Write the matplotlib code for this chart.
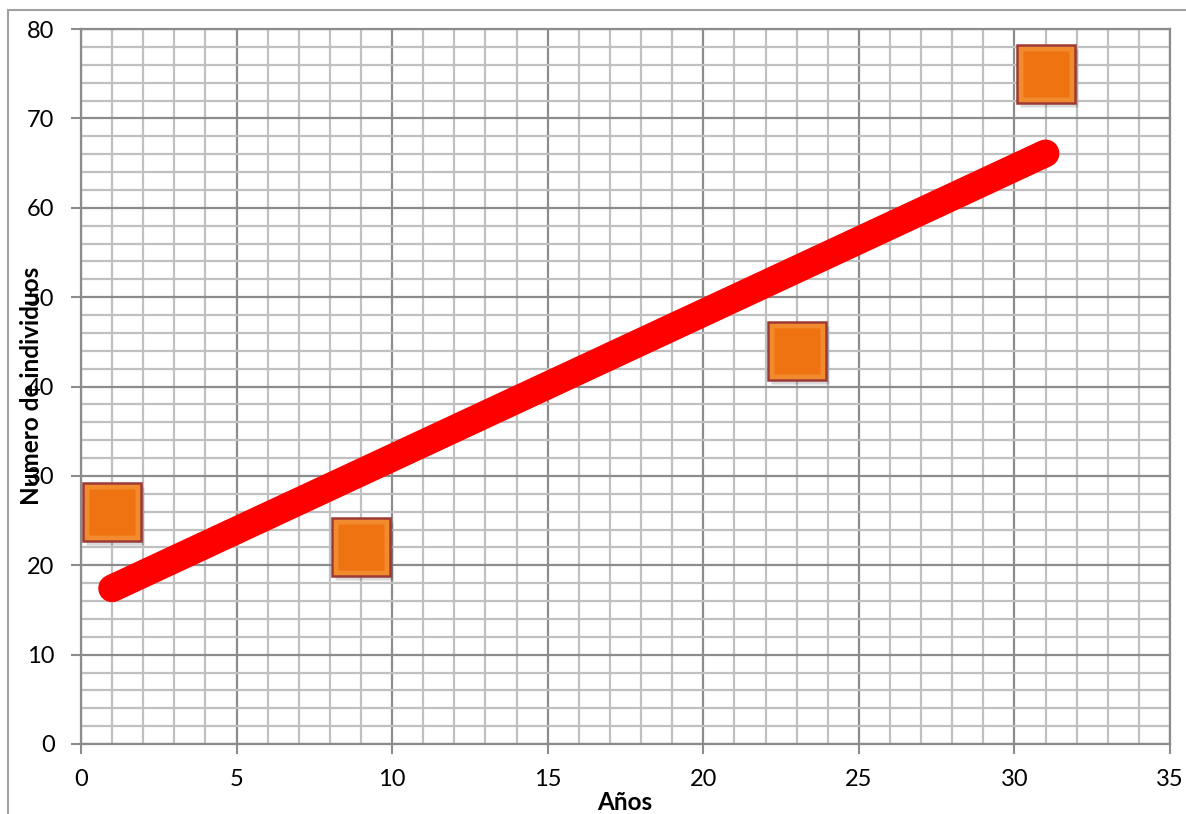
import numpy as np
import matplotlib
matplotlib.use("Agg")
import matplotlib.pyplot as plt
import matplotlib.transforms as mtransforms
from matplotlib.patches import Rectangle

# Data
years = [1, 9, 23, 31]
individuals = [26, 22, 44, 75]
x_ticks = [0, 5, 10, 15, 20, 25, 30, 35]
y_ticks = [0, 10, 20, 30, 40, 50, 60, 70, 80]
x_label = "Años"
y_label = "Numero de individuos"

plt.rcParams['font.family'] = ['Lato', 'DejaVu Sans']

fig = plt.figure(figsize=(11.86, 8.14), dpi=100)
ax = fig.add_axes([81/1186, 1 - 744/814, (1170-81)/1186, (744-29)/814])

ax.set_xlim(0, 35)
ax.set_ylim(0, 80)
ax.set_xticks(x_ticks)
ax.set_yticks(y_ticks)
ax.set_xticks(np.arange(0, 36, 1), minor=True)
ax.set_yticks(np.arange(0, 81, 2), minor=True)
ax.grid(which='minor', color='#c0c0c0', linewidth=1.6, zorder=0)
ax.grid(which='major', color='#8c8c8c', linewidth=1.6, zorder=0)
ax.set_axisbelow(True)
ax.tick_params(which='major', direction='out', length=7, width=1.5, color='#8c8c8c',
               labelsize=17, labelcolor='black')
ax.tick_params(axis='y', which='major', pad=12)
ax.tick_params(axis='x', which='major', pad=11)
ax.tick_params(which='minor', length=0)
for s in ax.spines.values():
    s.set_color('#8c8c8c')
    s.set_linewidth(1.6)

# Trend line (linear least squares fit)
coef = np.polyfit(years, individuals, 1)
xt = np.array([min(years), max(years)])
ax.plot(xt, np.polyval(coef, xt), color='#ff0000', linewidth=20,
        solid_capstyle='round', zorder=3)

# Marker shadow
shadow = mtransforms.offset_copy(ax.transData, fig=fig, x=3, y=-4, units='dots')
ax.plot(years, individuals, linestyle='none', marker='s', markersize=42,
        markerfacecolor='#000000', markeredgecolor='none', alpha=0.15,
        transform=shadow, zorder=4)
# Markers
ax.plot(years, individuals, linestyle='none', marker='s', markersize=42,
        markerfacecolor='#f28a2e', markeredgecolor='#9c3b36', markeredgewidth=1.8,
        zorder=5)
# Inner face (bevel effect)
ax.plot(years, individuals, linestyle='none', marker='s', markersize=33,
        markerfacecolor='#ef7411', markeredgecolor='none',
        zorder=6)

fig.text(625/1186, 1 - 803/814, x_label, fontsize=17.5, fontweight='bold',
         ha='center', va='center')
fig.text(32/1186, 1 - 386/814, y_label, fontsize=17.5, fontweight='bold',
         rotation=90, ha='center', va='center')

# Outer chart border
fig.patches.append(Rectangle((8/1186, -0.1), 1.2, 1 - 10/814 + 0.1,
                             transform=fig.transFigure, fill=False,
                             edgecolor='#a0a0a0', linewidth=1.5))

fig.savefig("out.png", dpi=100)
